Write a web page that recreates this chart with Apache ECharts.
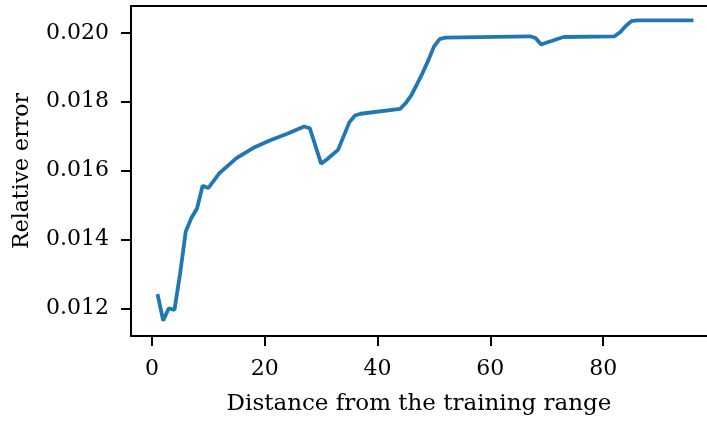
<!DOCTYPE html>
<html>
<head>
<meta charset="utf-8">
<script src="https://cdn.jsdelivr.net/npm/echarts@6/dist/echarts.min.js"></script>
<style>
  html, body { margin: 0; padding: 0; background: #fff; }
  #chart { width: 707px; height: 421px; }
</style>
</head>
<body>
<div id="chart"></div>
<script>
// distance from the training range
const distance = [1, 2, 3, 4, 5, 6, 7, 8, 9, 10, 12, 15, 18, 21, 24, 27, 28, 30, 31, 33,
  34, 35, 36, 37, 44, 45, 46, 47, 48, 49, 50, 51, 52, 67, 68, 69, 70, 71, 72, 73, 82,
  83, 84, 85, 86, 96]
const relError = [0.01241, 0.01164, 0.01200, 0.01195, 0.01300, 0.01423, 0.01462, 0.01490,
  0.01556, 0.01549, 0.01593, 0.01636, 0.01666, 0.01688, 0.01707, 0.01728, 0.01723,
  0.01620, 0.01632, 0.01660, 0.01700, 0.01740, 0.01760, 0.01765, 0.01779, 0.01796,
  0.01819, 0.01851, 0.01884, 0.01920, 0.01960, 0.01982, 0.01986, 0.01990, 0.01985,
  0.01966, 0.01972, 0.01977, 0.01983, 0.01988, 0.01990, 0.02002, 0.02020, 0.02034,
  0.02036, 0.02036]
const xTicks = [0, 20, 40, 60, 80]
const yTicks = [0.012, 0.014, 0.016, 0.018, 0.020]

const font = 'DejaVu Serif'
const points = distance.map((d, i) => [d, relError[i]])
const black = { color: '#000', width: 2 }

const chart = echarts.init(document.getElementById('chart'))
chart.setOption({
  animation: false,
  grid: {
    left: 131,
    top: 6,
    right: 0,
    height: 330
  },
  xAxis: [
    {
      type: 'value',
      min: -3.7,
      max: 98.4,
      name: 'Distance from the training range',
      nameLocation: 'middle',
      nameGap: 57,
      nameTextStyle: { color: '#000', fontFamily: font, fontSize: 23 },
      axisLine: { show: true, onZero: false, lineStyle: black },
      axisTick: { show: true, length: 10, customValues: xTicks, lineStyle: black },
      axisLabel: {
        customValues: xTicks,
        margin: 22,
        color: '#000',
        fontFamily: font,
        fontSize: 22
      },
      splitLine: { show: false }
    },
    {
      // top spine only
      type: 'value',
      position: 'top',
      min: -3.7,
      max: 98.4,
      axisLine: { show: true, onZero: false, lineStyle: black },
      axisTick: { show: false },
      axisLabel: { show: false },
      splitLine: { show: false }
    }
  ],
  yAxis: {
    type: 'value',
    min: 0.011194,
    max: 0.02078,
    name: 'Relative error',
    nameLocation: 'middle',
    nameGap: 98,
    nameRotate: 90,
    nameTextStyle: { color: '#000', fontFamily: font, fontSize: 22 },
    axisLine: { show: true, onZero: false, lineStyle: black },
    axisTick: { show: true, length: 10, customValues: yTicks, lineStyle: black },
    axisLabel: {
      customValues: yTicks,
      margin: 22,
      color: '#000',
      fontFamily: font,
      fontSize: 22,
      formatter: v => v.toFixed(3)
    },
    splitLine: { show: false }
  },
  series: [
    {
      type: 'line',
      data: points,
      showSymbol: false,
      lineStyle: { color: '#1f77b4', width: 3.8 }
    }
  ]
})
</script>
</body>
</html>
